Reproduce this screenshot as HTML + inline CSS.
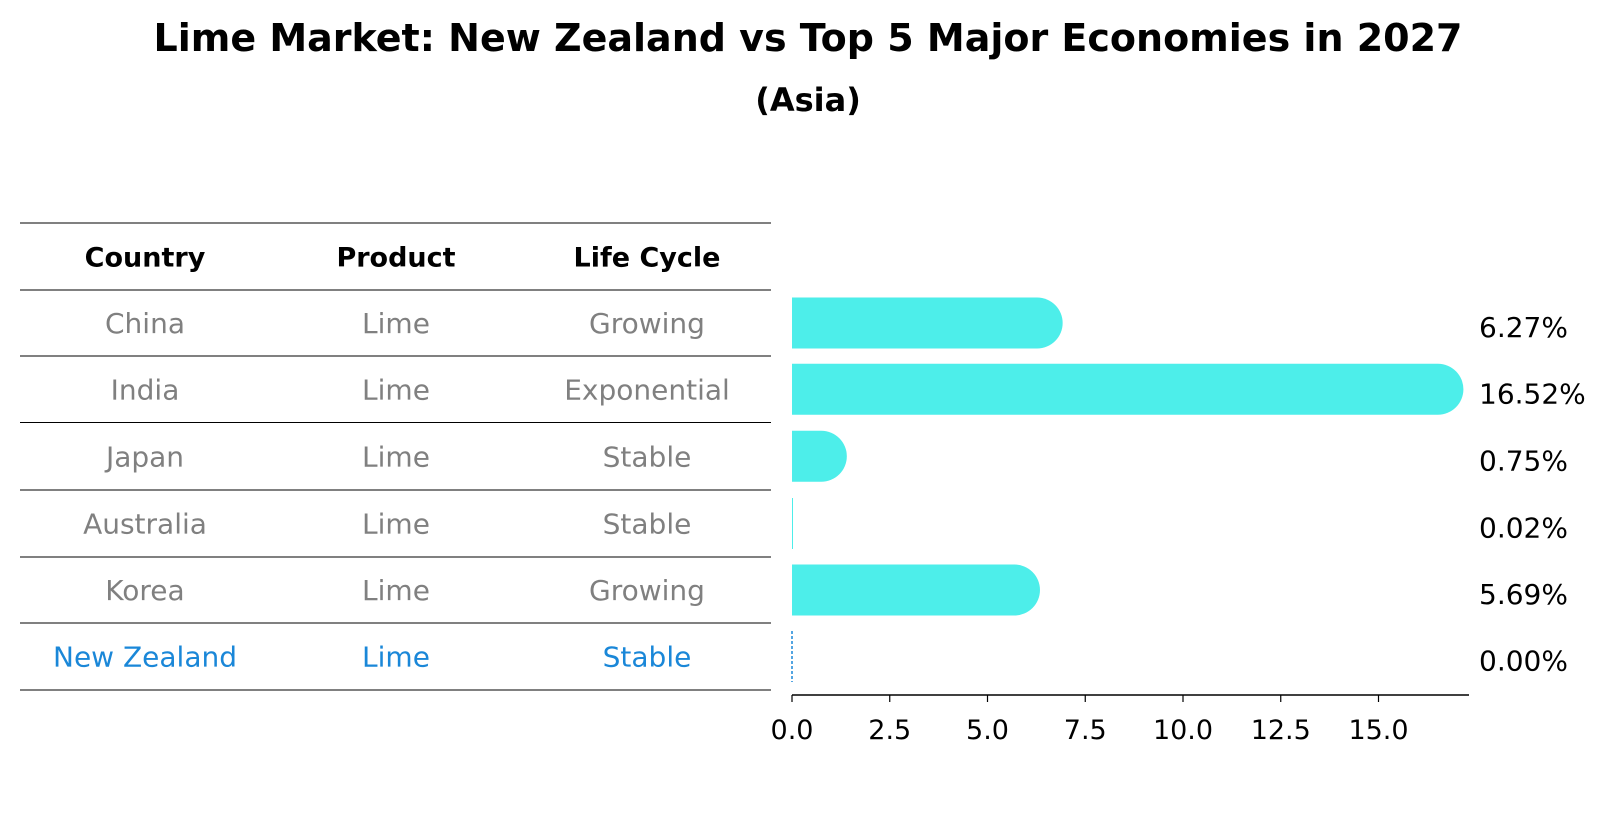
<!DOCTYPE html>
<html><head><meta charset="utf-8"><style>
body{margin:0;background:#fff;}
svg text{font-family:"DejaVu Sans","Liberation Sans",sans-serif;}
</style></head><body>
<svg id="chart" width="1604" height="823" viewBox="0 0 1604 823" xmlns="http://www.w3.org/2000/svg">
<text x="808" y="51" text-anchor="middle" font-size="38" font-weight="bold">Lime Market: New Zealand vs Top 5 Major Economies in 2027</text>
<text x="808" y="111" text-anchor="middle" font-size="32" font-weight="bold">(Asia)</text>
<g id="table"></g>
<g id="bars"></g>
</svg>
<script>
const countries = ["China","India","Japan","Australia","Korea","New Zealand"];
const products = ["Lime","Lime","Lime","Lime","Lime","Lime"];
const lifeCycles = ["Growing","Exponential","Stable","Stable","Growing","Stable"];
const values = [6.27,16.52,0.75,0.02,5.69,0.00];
const valueLabels = ["6.27%","16.52%","0.75%","0.02%","5.69%","0.00%"];
const tickValues = [0,2.5,5,7.5,10,12.5,15];
const tickLabels = ["0.0","2.5","5.0","7.5","10.0","12.5","15.0"];
const headers = ["Country","Product","Life Cycle"];

const NS="http://www.w3.org/2000/svg";
function mk(tag,attrs,parent,txt){const e=document.createElementNS(NS,tag);for(const k in attrs)e.setAttribute(k,attrs[k]);if(txt!==undefined)e.textContent=txt;parent.appendChild(e);return e;}
const table=document.getElementById('table');
const bars=document.getElementById('bars');
const lineYs=[223,290,356,422.5,490,557,623,690];
const colX=[145,396,647];
const rowC=i=>(lineYs[i+1]+lineYs[i+2])/2;
lineYs.forEach((y,i)=>{const l=mk('line',{x1:20,x2:771,y1:y,y2:y,stroke:'#000','stroke-width':1.1},table);

});
headers.forEach((h,j)=>{const t=mk('text',{x:colX[j],y:(lineYs[0]+lineYs[1])/2+10,'text-anchor':'middle','font-size':27,'font-weight':'bold'},table,h);

});
countries.forEach((c,i)=>{const col=c==="New Zealand"?"#1a87d8":"#808080";
[c,products[i],lifeCycles[i]].forEach((v,j)=>{const t=mk('text',{x:colX[j],y:rowC(i)+10,'text-anchor':'middle','font-size':28,fill:col},table,v);

});});
const x0=792,scale=39.1,h=51,r=25.5;
const xs=v=>x0+v*scale;
values.forEach((v,i)=>{const cy=rowC(i);let b;
if(v<=0.001){b=mk('line',{x1:x0,x2:x0,y1:cy-h/2,y2:cy+h/2,stroke:'#1a87d8','stroke-width':1.5,'stroke-dasharray':'3,2'},bars);}
else if(v<0.1){b=mk('rect',{x:x0,y:cy-h/2,width:Math.max(1,xs(v)-x0),height:h,fill:'#4DEEEA'},bars);}
else{const xe=xs(v);b=mk('path',{d:`M${x0},${cy-h/2} L${xe},${cy-h/2} A${r},${h/2} 0 0 1 ${xe},${cy+h/2} L${x0},${cy+h/2} Z`,fill:'#4DEEEA'},bars);}


const t=mk('text',{x:1479,y:cy+14,'font-size':28},bars,valueLabels[i]);

});
const ax=mk('line',{x1:x0,x2:1469,y1:695,y2:695,stroke:'#000','stroke-width':1.4},bars);


tickValues.forEach((v,i)=>{const tk=mk('line',{x1:xs(v),x2:xs(v),y1:695,y2:702,stroke:'#000','stroke-width':1.2},bars);


const t=mk('text',{x:xs(v),y:739,'text-anchor':'middle','font-size':27},bars,tickLabels[i]);

});
</script>
</body></html>
